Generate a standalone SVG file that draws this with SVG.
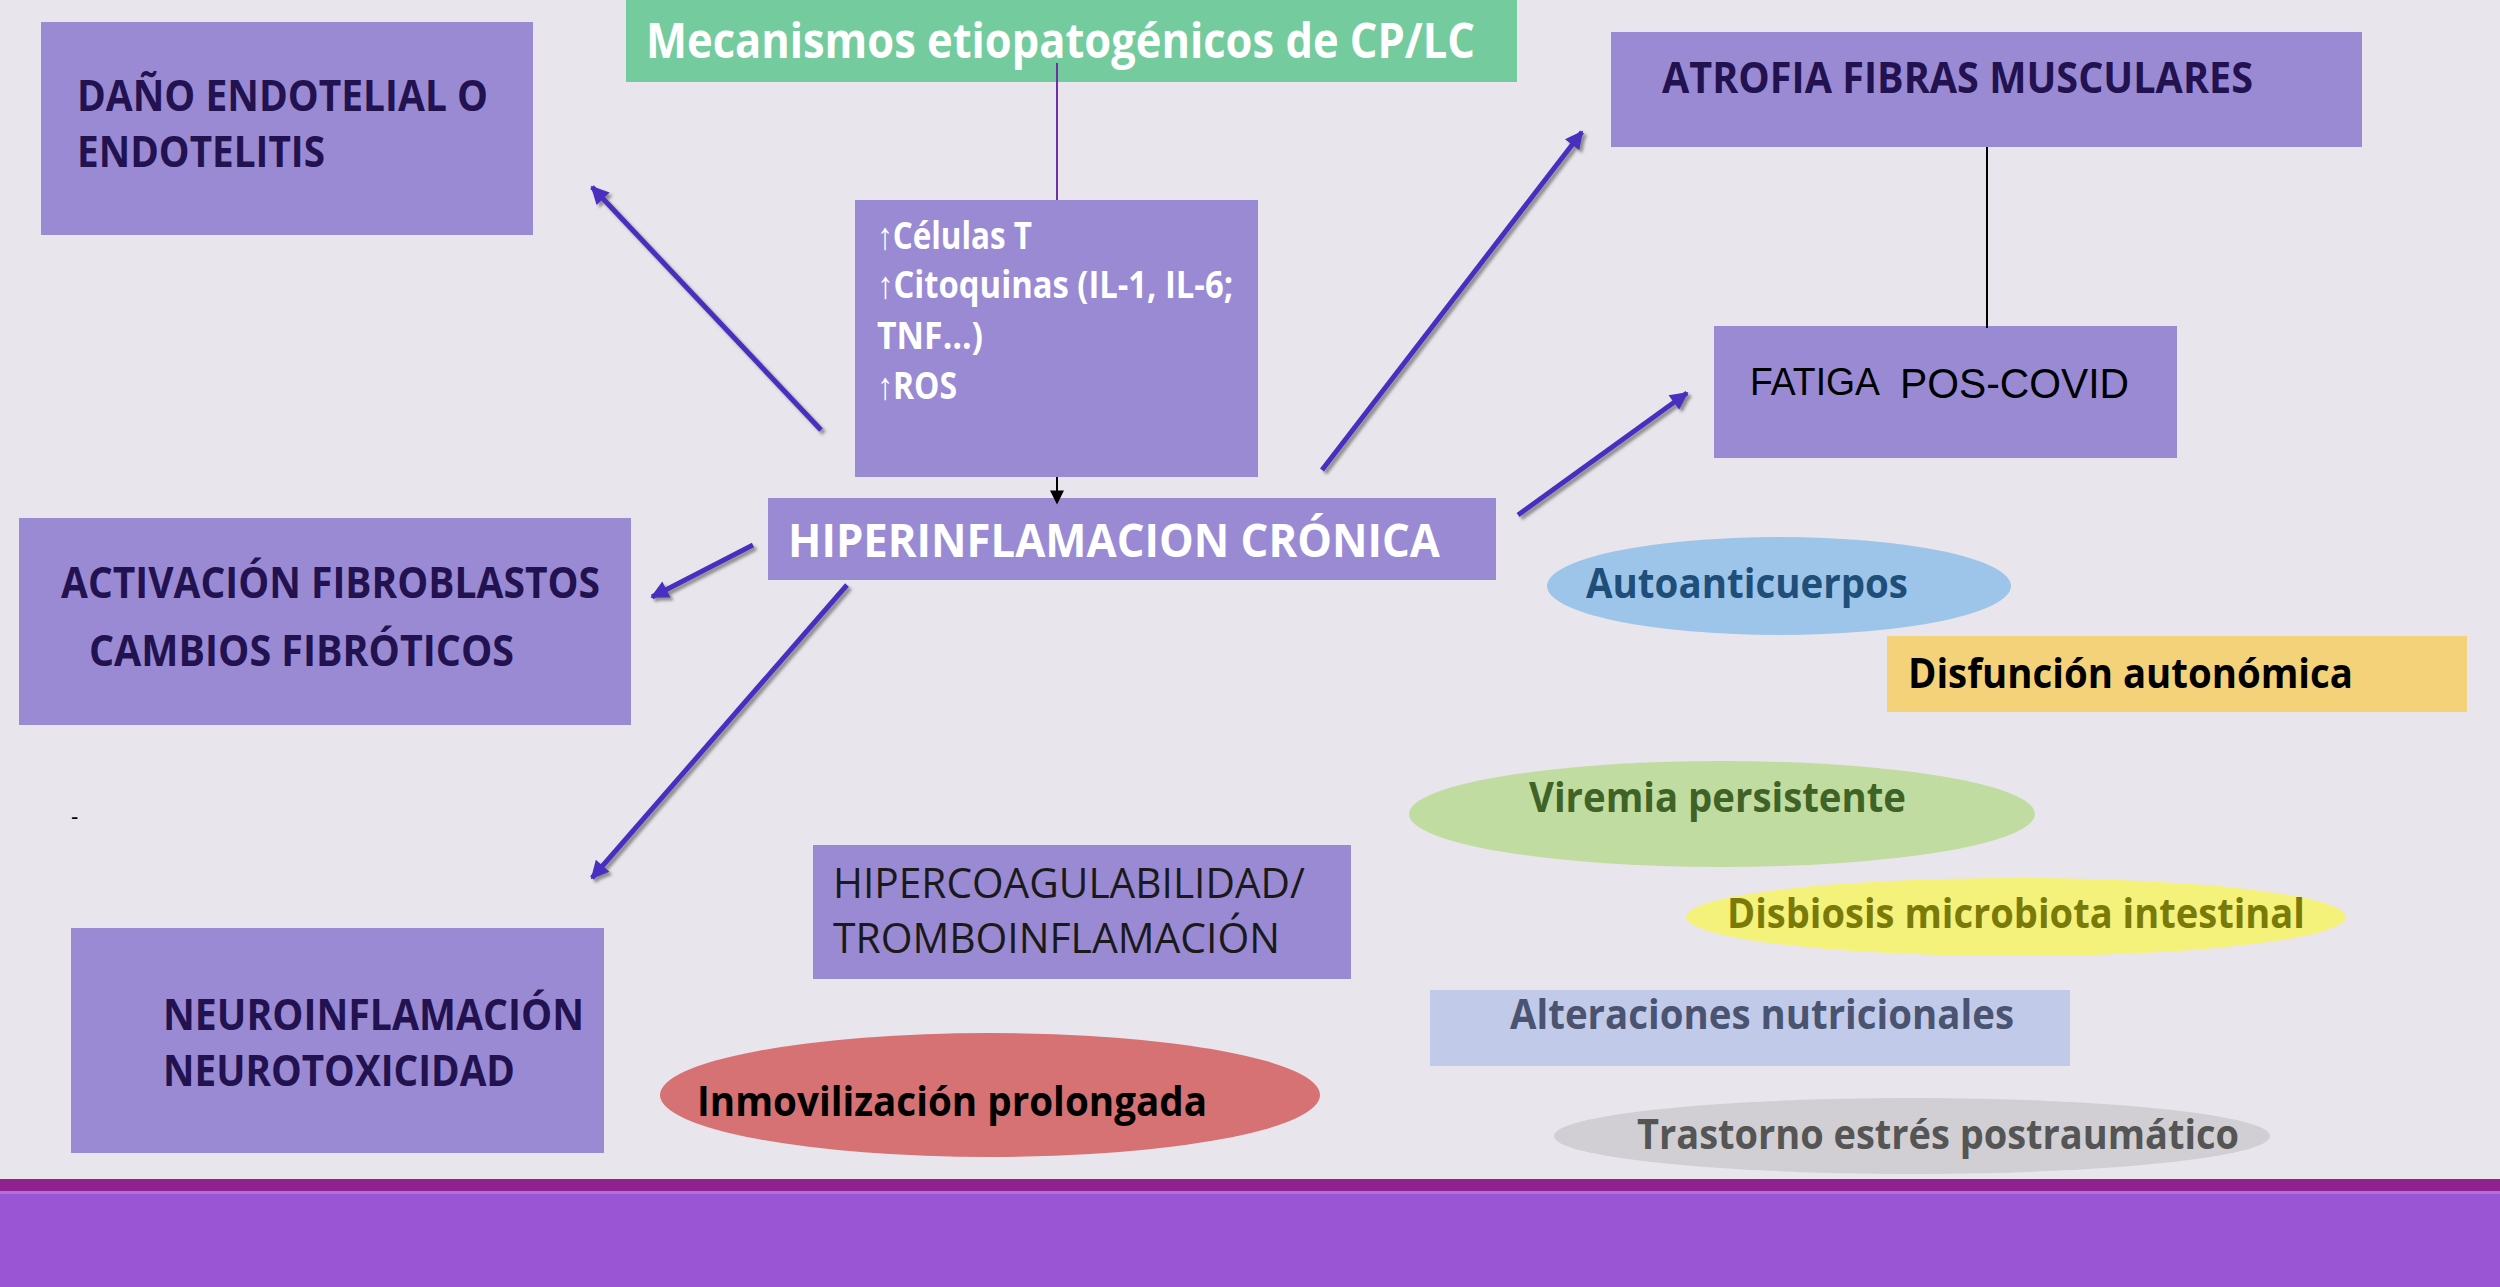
<svg xmlns="http://www.w3.org/2000/svg" width="2500" height="1287" viewBox="0 0 2500 1287">
<defs>
<style>
.box{fill:#9A8AD4}
.dark{fill:#22124F;font-family:"Open Sans","Liberation Sans",sans-serif;font-weight:700;font-size:43px}
.white{fill:#FFFFFF;font-family:"Open Sans","Liberation Sans",sans-serif;font-weight:700}
.reg{fill:#1A1A1A;font-family:"Open Sans","Liberation Sans",sans-serif;font-size:42px}
.lbl{font-family:"Open Sans","Liberation Sans",sans-serif;font-weight:700;font-size:42px}
.arr{stroke:#4A2FBF;stroke-width:5;fill:none;marker-end:url(#ah);filter:url(#sh)}
</style>
<marker id="ah" viewBox="0 0 10 10" refX="9" refY="5" markerUnits="userSpaceOnUse" markerWidth="24" markerHeight="18" orient="auto">
<path d="M0,0 L10,5 L0,10 z" fill="#4A2FBF"/>
</marker>
<marker id="ahb" viewBox="0 0 10 10" refX="9" refY="5" markerUnits="userSpaceOnUse" markerWidth="16" markerHeight="14" orient="auto">
<path d="M0,0 L10,5 L0,10 z" fill="#000000"/>
</marker>
<filter id="sh" x="-20%" y="-20%" width="140%" height="140%">
<feDropShadow dx="3" dy="3" stdDeviation="1.5" flood-color="#777777" flood-opacity="0.8"/>
</filter>
</defs>
<rect x="0" y="0" width="2500" height="1287" fill="#E9E5EC"/>
<rect x="0" y="1179" width="2500" height="13" fill="#902290"/>
<rect x="0" y="1191" width="2500" height="3" fill="#B070D8"/>
<rect x="0" y="1194" width="2500" height="93" fill="#9955D4"/>

<g id="title">
<rect x="626" y="0" width="891" height="82" fill="#74CC9E"/>
<text x="646" y="58" class="white" font-size="48" font-weight="600" textLength="829" lengthAdjust="spacingAndGlyphs">Mecanismos etiopatogénicos de CP/LC</text>
</g>

<g id="dano">
<rect x="41" y="22" width="492" height="213" class="box"/>
<text x="77" y="111" class="dark" textLength="411" lengthAdjust="spacingAndGlyphs">DAÑO ENDOTELIAL O</text>
<text x="77" y="167" class="dark" textLength="248" lengthAdjust="spacingAndGlyphs">ENDOTELITIS</text>
</g>

<g id="citoquinas">
<rect x="855" y="200" width="403" height="277" class="box"/>
<text x="877" y="249" class="white" font-size="38" font-weight="800" textLength="155" lengthAdjust="spacingAndGlyphs">↑Células T</text>
<text x="877" y="298" class="white" font-size="38" font-weight="800" textLength="356" lengthAdjust="spacingAndGlyphs">↑Citoquinas (IL-1, IL-6;</text>
<text x="877" y="349" class="white" font-size="38" font-weight="800" textLength="106" lengthAdjust="spacingAndGlyphs">TNF…)</text>
<text x="877" y="399" class="white" font-size="38" font-weight="800" textLength="80" lengthAdjust="spacingAndGlyphs">↑ROS</text>
</g>

<g id="atrofia">
<rect x="1611" y="32" width="751" height="115" class="box"/>
<text x="1662" y="93" class="dark" textLength="591" lengthAdjust="spacingAndGlyphs">ATROFIA FIBRAS MUSCULARES</text>
</g>

<g id="fatiga">
<rect x="1714" y="326" width="463" height="132" class="box"/>
<text x="1750" y="395" fill="#000000" font-family="Liberation Sans, Arial, sans-serif" font-size="38" textLength="130" lengthAdjust="spacingAndGlyphs">FATIGA</text>
<text x="1900" y="398" fill="#000000" font-family="Liberation Sans, Arial, sans-serif" font-size="42" textLength="229" lengthAdjust="spacingAndGlyphs">POS-COVID</text>
</g>

<g id="hiperinflamacion">
<rect x="768" y="498" width="728" height="82" class="box"/>
<text x="788" y="557" class="white" font-size="46" textLength="652" lengthAdjust="spacingAndGlyphs">HIPERINFLAMACION CRÓNICA</text>
</g>

<g id="activacion">
<rect x="19" y="518" width="612" height="207" class="box"/>
<text x="61" y="598" class="dark" textLength="539" lengthAdjust="spacingAndGlyphs">ACTIVACIÓN FIBROBLASTOS</text>
<text x="89" y="666" class="dark" textLength="425" lengthAdjust="spacingAndGlyphs">CAMBIOS FIBRÓTICOS</text>
</g>

<g id="guion">
<text x="71" y="824" fill="#000000" font-family="Liberation Sans, sans-serif" font-size="22">-</text>
</g>

<g id="hipercoagulabilidad">
<rect x="813" y="845" width="538" height="134" class="box"/>
<text x="833" y="898" class="reg" textLength="472" lengthAdjust="spacingAndGlyphs">HIPERCOAGULABILIDAD/</text>
<text x="833" y="953" class="reg" textLength="447" lengthAdjust="spacingAndGlyphs">TROMBOINFLAMACIÓN</text>
</g>

<g id="neuro">
<rect x="71" y="928" width="533" height="225" class="box"/>
<text x="163" y="1030" class="dark" textLength="421" lengthAdjust="spacingAndGlyphs">NEUROINFLAMACIÓN</text>
<text x="163" y="1086" class="dark" textLength="352" lengthAdjust="spacingAndGlyphs">NEUROTOXICIDAD</text>
</g>

<g id="autoanticuerpos">
<ellipse cx="1779" cy="586" rx="232" ry="49" fill="#9DC5EA"/>
<text x="1586" y="598" class="lbl" fill="#1F4E79" textLength="322" lengthAdjust="spacingAndGlyphs">Autoanticuerpos</text>
</g>

<g id="disfuncion">
<rect x="1887" y="636" width="580" height="76" fill="#F4D279"/>
<text x="1908" y="688" class="lbl" fill="#000000" textLength="445" lengthAdjust="spacingAndGlyphs">Disfunción autonómica</text>
</g>

<g id="viremia">
<ellipse cx="1722" cy="814" rx="313" ry="53" fill="#C0DCA0"/>
<text x="1529" y="812" class="lbl" fill="#3F6327" textLength="377" lengthAdjust="spacingAndGlyphs">Viremia persistente</text>
</g>

<g id="disbiosis">
<ellipse cx="2016" cy="917" rx="330" ry="39" fill="#F4F27A"/>
<text x="1727" y="928" class="lbl" fill="#7A7A08" textLength="578" lengthAdjust="spacingAndGlyphs">Disbiosis microbiota intestinal</text>
</g>

<g id="alteraciones">
<rect x="1430" y="990" width="640" height="76" fill="#C2CAEA"/>
<text x="1510" y="1029" class="lbl" fill="#4A5470" textLength="504" lengthAdjust="spacingAndGlyphs">Alteraciones nutricionales</text>
</g>

<g id="inmovilizacion">
<ellipse cx="990" cy="1095" rx="330" ry="62" fill="#D67273"/>
<text x="697" y="1116" class="lbl" fill="#000000" textLength="510" lengthAdjust="spacingAndGlyphs">Inmovilización prolongada</text>
</g>

<g id="trastorno">
<ellipse cx="1912" cy="1136" rx="358" ry="38" fill="#D1CFD3"/>
<text x="1637" y="1149" class="lbl" fill="#555555" textLength="602" lengthAdjust="spacingAndGlyphs">Trastorno estrés postraumático</text>
</g>

<g id="connectors">
<line x1="1057" y1="63" x2="1057" y2="200" stroke="#7030A0" stroke-width="2"/>
<line x1="1057" y1="477" x2="1057" y2="503" stroke="#000000" stroke-width="2" marker-end="url(#ahb)"/>
<line x1="1987" y1="147" x2="1987" y2="328" stroke="#000000" stroke-width="2"/>
<line x1="821" y1="430" x2="592" y2="187" class="arr"/>
<line x1="1322" y1="470" x2="1582" y2="132" class="arr"/>
<line x1="1518" y1="515" x2="1687" y2="393" class="arr"/>
<line x1="753" y1="545" x2="652" y2="597" class="arr"/>
<line x1="847" y1="585" x2="592" y2="878" class="arr"/>
<line x1="1078" y1="598" x2="1078" y2="813" class="arr"/>
</g>
</svg>
